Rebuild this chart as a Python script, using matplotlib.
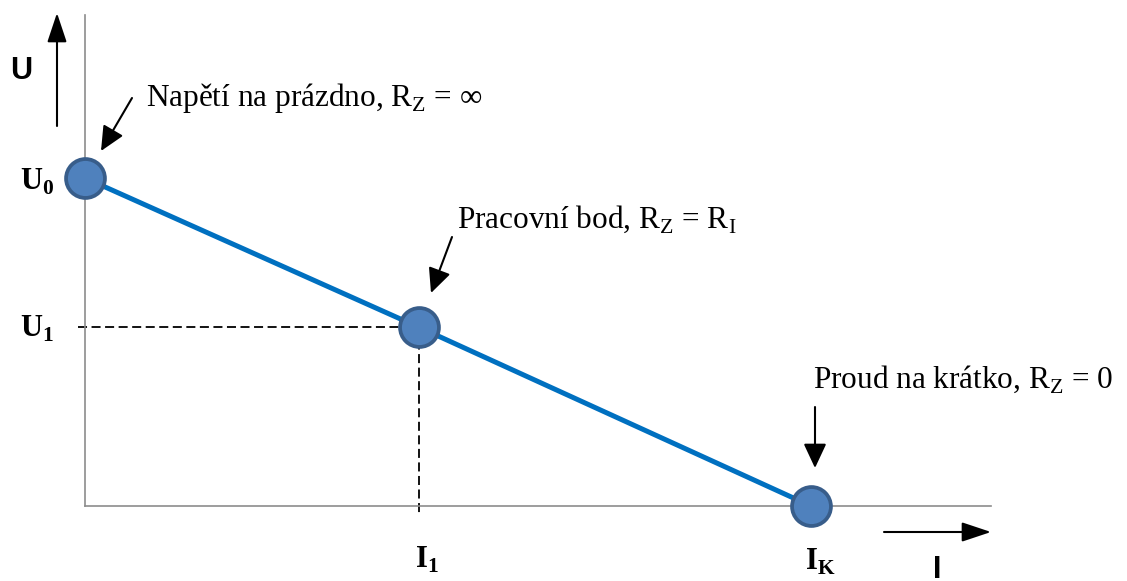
import matplotlib.pyplot as plt

plt.rcParams['mathtext.fontset'] = 'custom'
plt.rcParams['mathtext.rm'] = 'Liberation Serif'
plt.rcParams['mathtext.bf'] = 'Liberation Serif:bold'

# working line of the source: U0 at I=0, IK at U=0, operating point between
U0 = 1.0
IK = 1.0
I1 = 0.46
U1 = 0.545
line_i = [0.0, I1, IK]
line_u = [U0, U1, 0.0]

W, H = 1127, 581
fig = plt.figure(figsize=(W / 100, H / 100), dpi=100)
ax = fig.add_axes([85 / W, 75 / H, 906 / W, 491 / H])
ax.set_xlim(0, 906 / 726)
ax.set_ylim(0, 491 / 328)
for s in ['top', 'right']:
    ax.spines[s].set_visible(False)
for s in ['left', 'bottom']:
    ax.spines[s].set_color('#8c8c8c')
    ax.spines[s].set_linewidth(1.2)
ax.set_xticks([])
ax.set_yticks([])

# dashed guides to the operating point
ax.plot([-0.01, I1], [U1, U1], color='black', lw=1.3, ls=(0, (5, 2.5)), clip_on=False, zorder=2)
ax.plot([I1, I1], [U1, -0.02], color='black', lw=1.3, ls=(0, (5, 2.5)), clip_on=False, zorder=2)

ax.plot(line_i, line_u, color='#0070C0', lw=3.6, zorder=3, clip_on=False)
ax.plot(line_i, line_u, ls='none', marker='o', markersize=28, markerfacecolor='#4F81BD',
        markeredgecolor='#385D8A', markeredgewidth=2.7, zorder=4, clip_on=False)


def fp(x, y):
    return (x, H - y)


def arrow(tail, tip, hl=0.75, hw=0.35):
    ax.annotate('', xy=fp(*tip), xytext=fp(*tail), xycoords='figure pixels',
                textcoords='figure pixels', annotation_clip=False,
                arrowprops=dict(arrowstyle=f'-|>,head_length={hl},head_width={hw}',
                                mutation_scale=20, color='black', lw=1.5,
                                shrinkA=0, shrinkB=0))


serif = ['Liberation Serif', 'DejaVu Serif']
sans = ['Liberation Sans', 'DejaVu Sans']
fs = 22.5

# axis arrows and names
arrow((57, 126), (57, 13), hl=0.9, hw=0.3)
arrow((884, 532), (991, 532), hl=0.9, hw=0.3)
fig.text(21 / W, 1 - 71 / H, 'U', family=sans, weight='bold', fontsize=22, ha='center', va='center')
fig.text(937 / W, 1 - 555 / H, 'I', family=sans, weight='bold', fontsize=22, ha='center', va='top')

# point labels
fig.text(54 / W, 1 - 182 / H, r'U$_\mathbf{0}$', family=serif, weight='bold', fontsize=22, ha='right', va='center')
fig.text(54 / W, 1 - 329 / H, r'U$_\mathbf{1}$', family=serif, weight='bold', fontsize=22, ha='right', va='center')
fig.text(415 / W, 1 - 568 / H, r'I$_\mathbf{1}$', family=serif, weight='bold', fontsize=22, ha='left', va='baseline')
fig.text(805 / W, 1 - 570 / H, r'I$_\mathbf{K}$', family=serif, weight='bold', fontsize=22, ha='left', va='baseline')

# annotations
fig.text(146 / W, 1 - 106 / H, r'Napětí na prázdno, R$_\mathrm{Z}$ = ∞', family=serif, fontsize=fs, va='baseline')
arrow((132, 98), (101, 151))
fig.text(457 / W, 1 - 228 / H, r'Pracovní bod, R$_\mathrm{Z}$ = R$_\mathrm{I}$', family=serif, fontsize=fs, va='baseline')
arrow((452, 237), (431, 293))
fig.text(813 / W, 1 - 388 / H, r'Proud na krátko, R$_\mathrm{Z}$ = 0', family=serif, fontsize=fs, va='baseline')
arrow((815, 407), (815, 468))

fig.savefig('out.png', dpi=100)
